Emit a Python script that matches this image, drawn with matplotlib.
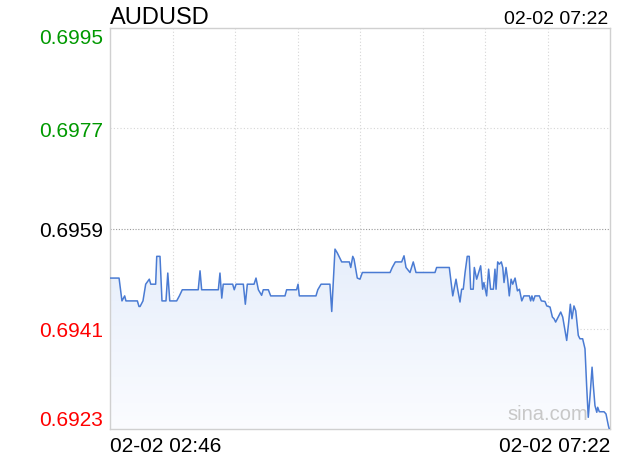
import matplotlib
matplotlib.use("Agg")
import matplotlib.pyplot as plt
import matplotlib.transforms as mtransforms
import numpy as np
from matplotlib.patches import Polygon

plt.rcParams['font.family'] = ['Liberation Sans', 'DejaVu Sans']

# minutes after 02:46 and AUDUSD price
minutes = [0, 5.0, 6.6, 8.1, 8.8, 15.1, 16.0, 16.6, 18.2, 19.7, 21.7, 22.5, 25.2, 25.8,
           27.6, 28.7, 30.9, 31.9, 33.0, 36.8, 38.3, 39.9, 48.7, 49.7, 50.6, 59.8,
           60.7, 61.7, 62.5, 67.7, 68.6, 69.6, 73.6, 74.7, 75.8, 79.5, 80.6, 81.9,
           83.7, 84.6, 87.4, 88.7, 96.6, 97.5, 103.0, 103.8, 104.5, 113.7, 114.7,
           116.5, 121.4, 122.4, 124.2, 125.5, 127.9, 132.1, 132.9, 134.0, 134.7,
           136.5, 138.0, 139.3, 154.6, 155.8, 157.5, 161.0, 162.3, 163.4, 165.6,
           167.4, 168.9, 179.4, 180.3, 187.3, 188.1, 189.2, 191.0, 191.9, 193.2,
           194.1, 195.0, 196.0, 197.2, 198.3, 199.1, 200.5, 201.1, 202.4, 204.6,
           205.7, 206.4, 207.9, 209.0, 210.1, 211.6, 212.5, 213.1, 214.0, 214.9,
           216.0, 216.8, 217.5, 218.6, 219.5, 220.4, 221.4, 222.3, 223.6, 224.9,
           226.0, 227.3, 228.5, 231.5, 232.2, 232.9, 233.7, 234.6, 237.0, 238.1,
           240.1, 241.1, 242.9, 244.2, 245.1, 246.0, 247.7, 248.8, 249.9, 251.0,
           252.1, 253.2, 254.1, 255.0, 256.1, 257.1, 258.5, 259.4, 260.9, 262.2,
           263.1, 264.0, 265.0, 266.1, 266.8, 267.7, 268.7, 269.2, 270.1, 272.7,
           273.8, 275.1, 275.6]
prices = [0.69501, 0.69501, 0.69460, 0.69469, 0.69460, 0.69460, 0.69450, 0.69450,
          0.69460, 0.69490, 0.69499, 0.69490, 0.69490, 0.69540, 0.69540, 0.69460,
          0.69460, 0.69510, 0.69460, 0.69460, 0.69469, 0.69480, 0.69480, 0.69514,
          0.69480, 0.69480, 0.69510, 0.69465, 0.69490, 0.69490, 0.69480, 0.69490,
          0.69490, 0.69454, 0.69490, 0.69490, 0.69501, 0.69480, 0.69470, 0.69480,
          0.69480, 0.69469, 0.69469, 0.69480, 0.69480, 0.69490, 0.69469, 0.69469,
          0.69480, 0.69490, 0.69490, 0.69441, 0.69553, 0.69546, 0.69530, 0.69530,
          0.69520, 0.69540, 0.69535, 0.69501, 0.69499, 0.69511, 0.69511, 0.69520,
          0.69530, 0.69530, 0.69541, 0.69520, 0.69511, 0.69530, 0.69511, 0.69511,
          0.69520, 0.69520, 0.69499, 0.69469, 0.69499, 0.69481, 0.69458, 0.69481,
          0.69481, 0.69511, 0.69540, 0.69540, 0.69481, 0.69481, 0.69520, 0.69499,
          0.69523, 0.69481, 0.69493, 0.69469, 0.69517, 0.69481, 0.69481, 0.69517,
          0.69481, 0.69530, 0.69526, 0.69530, 0.69520, 0.69493, 0.69520, 0.69499,
          0.69469, 0.69499, 0.69490, 0.69501, 0.69478, 0.69481, 0.69460, 0.69469,
          0.69469, 0.69460, 0.69469, 0.69460, 0.69469, 0.69469, 0.69460, 0.69459,
          0.69451, 0.69449, 0.69431, 0.69428, 0.69422, 0.69433, 0.69440, 0.69431,
          0.69410, 0.69389, 0.69422, 0.69454, 0.69428, 0.69451, 0.69442, 0.69398,
          0.69392, 0.69392, 0.69374, 0.69308, 0.69251, 0.69290, 0.69341, 0.69308,
          0.69272, 0.69260, 0.69269, 0.69261, 0.69261, 0.69257, 0.69236, 0.69230]

y_ticks = [0.6923, 0.6941, 0.6959, 0.6977, 0.6995]
y_labels = ["0.6923", "0.6941", "0.6959", "0.6977", "0.6995"]
y_colors = ["#ff0000", "#ff0000", "#000000", "#009900", "#009900"]
x_labels = ["02-02 02:46", "02-02 07:22"]
total_min = 276

fig = plt.figure(figsize=(6.2, 4.6), dpi=100)
ax = fig.add_axes([110 / 620, 30 / 460, 500 / 620, 401 / 460])
ax.set_xlim(0, total_min)
ax.set_ylim(y_ticks[0], y_ticks[-1])

# gradient fill under the line
verts = [(minutes[0], y_ticks[0])] + list(zip(minutes, prices)) + [(minutes[-1], y_ticks[0])]
poly = Polygon(verts, closed=True, facecolor='none', edgecolor='none')
ax.add_patch(poly)
grad = np.linspace(0, 1, 256).reshape(-1, 1)
cmap = matplotlib.colors.LinearSegmentedColormap.from_list("f", ["#fbfcff", "#e6eefb"])
im = ax.imshow(grad, extent=[0, total_min, y_ticks[0], max(prices)], origin='lower',
               aspect='auto', cmap=cmap, zorder=1)
im.set_clip_path(poly)

ax.plot(minutes, prices, color='#4a7bd3', linewidth=1.1, zorder=3)

# grid
for i in range(1, 8):
    ax.axvline(total_min * i / 8, color='#d6d6d6', linestyle=(0, (1, 2)), linewidth=0.8, zorder=0)
for v in (0.6941, 0.6977):
    ax.axhline(v, color='#d6d6d6', linestyle=(0, (1, 2)), linewidth=0.8, zorder=0)
ax.axhline(0.6959, color='#999999', linestyle=(0, (1, 1.5)), linewidth=0.8, zorder=0)

for s in ax.spines.values():
    s.set_color('#d0d0d0')
    s.set_linewidth(1)

ax.set_yticks(y_ticks)
ax.set_yticklabels(y_labels, fontsize=15)
for lab, c in zip(ax.get_yticklabels(), y_colors):
    lab.set_color(c)
ylabs = ax.get_yticklabels()
ylabs[0].set_va('bottom')
ylabs[0].set_transform(ylabs[0].get_transform() +
                       mtransforms.ScaledTranslation(0, 3 / 72, fig.dpi_scale_trans))
ylabs[-1].set_va('top')
ax.tick_params(axis='y', length=0, pad=5)

ax.set_xticks([0, total_min])
ax.set_xticklabels(x_labels, fontsize=15)
ax.get_xticklabels()[0].set_ha('left')
ax.get_xticklabels()[1].set_ha('right')
ax.tick_params(axis='x', length=0, pad=5)

fig.text(110 / 620, 1 - 24 / 460, "AUDUSD", fontsize=17, va='baseline', ha='left')
fig.text(608 / 620, 1 - 24 / 460, "02-02 07:22", fontsize=14, va='baseline', ha='right')
ax.text(0.956, 0.015, "sina.com", transform=ax.transAxes, fontsize=14.5,
        color='#c8c8c8', ha='right', va='bottom', zorder=2)

fig.savefig("out.png", dpi=100)
